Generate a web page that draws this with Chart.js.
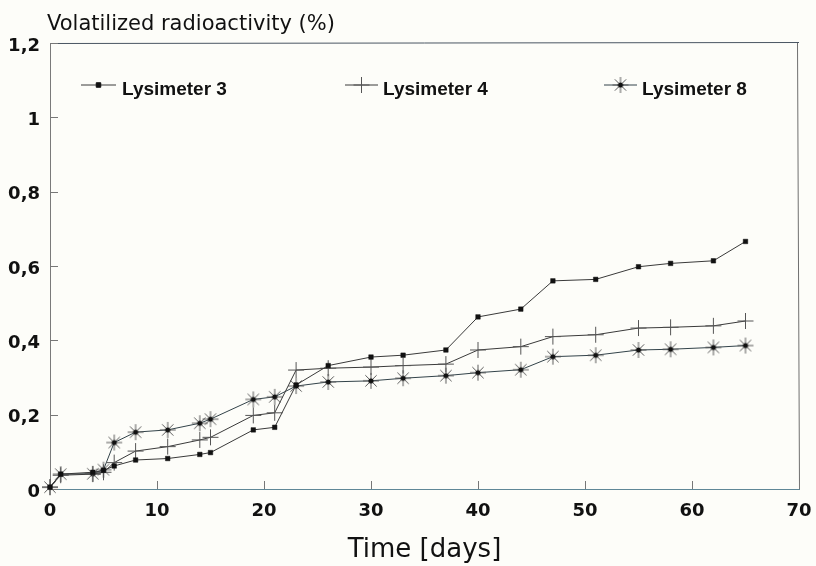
<!DOCTYPE html>
<html>
<head>
<meta charset="utf-8">
<script src="https://cdn.jsdelivr.net/npm/chart.js@4.4.0/dist/chart.umd.min.js"></script>
<style>
  html, body { margin: 0; padding: 0; background: #fdfdf9; }
  #wrap { width: 816px; height: 566px; }
</style>
</head>
<body>
<div id="wrap"><canvas id="c" width="816" height="566"></canvas></div>
<script>
// ---- data ----
const days = [0, 1, 4, 5, 6, 8, 11, 14, 15, 19, 21, 23, 26, 30, 33, 37, 40, 44, 47, 51, 55, 58, 62, 65];
const lysimeter3 = [0.005, 0.04, 0.045, 0.05, 0.062, 0.078, 0.082, 0.093, 0.098, 0.159, 0.166, 0.28, 0.332, 0.355, 0.36, 0.374, 0.463, 0.484, 0.56, 0.564, 0.598, 0.607, 0.614, 0.666];
const lysimeter4 = [0.005, 0.037, 0.04, 0.045, 0.071, 0.102, 0.114, 0.132, 0.139, 0.198, 0.205, 0.32, 0.325, 0.328, 0.332, 0.336, 0.374, 0.383, 0.41, 0.415, 0.433, 0.435, 0.439, 0.452];
const lysimeter8 = [0.005, 0.04, 0.041, 0.052, 0.125, 0.153, 0.159, 0.177, 0.188, 0.241, 0.248, 0.277, 0.288, 0.291, 0.298, 0.305, 0.313, 0.321, 0.356, 0.36, 0.374, 0.376, 0.381, 0.386];
const seriesNames = ['Lysimeter 3', 'Lysimeter 4', 'Lysimeter 8'];
const xTickLabels = ['0', '10', '20', '30', '40', '50', '60', '70'];
const yTickLabels = ['0', '0,2', '0,4', '0,6', '0,8', '1', '1,2'];
const yAxisTitle = 'Volatilized radioactivity (%)';
const xAxisTitle = 'Time [days]';

// asterisk marker with dark centre
function makeAsterisk(r) {
  const s = r * 2 + 4;
  const cv = document.createElement('canvas');
  cv.width = s; cv.height = s;
  const g = cv.getContext('2d');
  const c = s / 2;
  g.strokeStyle = '#5a5a5a';
  g.lineWidth = 1;
  for (let k = 0; k < 4; k++) {
    const a = k * Math.PI / 4;
    g.beginPath();
    g.moveTo(c - r * Math.cos(a), c - r * Math.sin(a));
    g.lineTo(c + r * Math.cos(a), c + r * Math.sin(a));
    g.stroke();
  }
  g.fillStyle = '#111';
  g.beginPath(); g.arc(c, c, 2.6, 0, Math.PI * 2); g.fill();
  return cv;
}
const asterisk = makeAsterisk(8);

const toPts = arr => days.map((d, i) => ({ x: d, y: arr[i] }));

const frameAndLegend = {
  id: 'frameAndLegend',
  beforeDraw(chart) {
    const ctx = chart.ctx;
    ctx.save();
    ctx.fillStyle = '#fdfdf9';
    ctx.fillRect(0, 0, chart.width, chart.height);
    ctx.restore();
  },
  beforeDatasetsDraw(chart) {
    const { ctx, chartArea: a, scales } = chart;
    ctx.save();
    ctx.lineWidth = 1;
    // top & right frame lines
    ctx.strokeStyle = '#4a5663';
    ctx.beginPath(); ctx.moveTo(a.left, a.top + 0.5); ctx.lineTo(a.right, a.top - 0.5); ctx.stroke();
    ctx.strokeStyle = '#707070';
    ctx.beginPath(); ctx.moveTo(a.right - 1.5, a.top); ctx.lineTo(a.right + 0.5, a.bottom); ctx.stroke();
    // inward ticks
    ctx.strokeStyle = '#777';
    scales.y.ticks.forEach(t => {
      const py = Math.round(scales.y.getPixelForValue(t.value)) + 0.5;
      ctx.beginPath(); ctx.moveTo(a.left, py); ctx.lineTo(a.left + 8, py); ctx.stroke();
    });
    scales.x.ticks.forEach(t => {
      const px = Math.round(scales.x.getPixelForValue(t.value)) + 0.5;
      ctx.beginPath(); ctx.moveTo(px, a.bottom); ctx.lineTo(px, a.bottom - 8); ctx.stroke();
    });
    ctx.restore();
  },
  afterDraw(chart) {
    const ctx = chart.ctx;
    ctx.save();
    // axis title (top-left)
    ctx.fillStyle = '#111';
    ctx.font = '21px "DejaVu Sans"';
    ctx.textBaseline = 'alphabetic';
    ctx.textAlign = 'left';
    ctx.fillText(yAxisTitle, 47, 30);
    // legend inside plot
    const items = [
      { x0: 81, x1: 116, tx: 122 },
      { x0: 345, x1: 378, tx: 383 },
      { x0: 604, x1: 637, tx: 642 }
    ];
    const ly = 85;
    chart.data.datasets.forEach((ds, i) => {
      const it = items[i];
      ctx.strokeStyle = ds.borderColor;
      ctx.lineWidth = 1;
      ctx.beginPath(); ctx.moveTo(it.x0, ly); ctx.lineTo(it.x1, ly); ctx.stroke();
      ctx.fillStyle = ds.pointBackgroundColor || '#111';
      ctx.strokeStyle = ds.pointBorderColor || '#555';
      Chart.helpers.drawPoint(ctx, {
        pointStyle: ds.pointStyle, radius: ds.pointRadius, borderWidth: ds.pointBorderWidth || 1, rotation: 0
      }, (it.x0 + it.x1) / 2, ly);
      ctx.fillStyle = '#111';
      ctx.font = 'bold 19px "Liberation Sans"';
      ctx.textBaseline = 'alphabetic';
      ctx.fillText(ds.label, it.tx, ly + 10);
    });
    ctx.restore();
  }
};

new Chart(document.getElementById('c'), {
  type: 'line',
  data: {
    datasets: [
      {
        label: seriesNames[0], data: toPts(lysimeter3), clip: false,
        borderColor: '#3a3a3a', borderWidth: 1,
        pointStyle: 'rect', pointRadius: 3.2, pointBackgroundColor: '#111', pointBorderColor: '#111', pointBorderWidth: 0.5
      },
      {
        label: seriesNames[1], data: toPts(lysimeter4), clip: false,
        borderColor: '#3a3a3a', borderWidth: 1,
        pointStyle: 'cross', pointRadius: 8, pointBorderColor: '#555', pointBorderWidth: 1
      },
      {
        label: seriesNames[2], data: toPts(lysimeter8), clip: false,
        borderColor: '#33434a', borderWidth: 1,
        pointStyle: asterisk, pointRadius: 8, pointBorderWidth: 1
      }
    ]
  },
  options: {
    responsive: false,
    animation: false,
    devicePixelRatio: 1,
    layout: { padding: { top: 43, right: 17, left: 0, bottom: 0 } },
    plugins: { legend: { display: false }, tooltip: { enabled: false }, title: { display: false } },
    elements: { line: { tension: 0 } },
    scales: {
      x: {
        type: 'linear', min: 0, max: 70,
        afterFit: s => { s.height = 77; s.paddingLeft = 0; s.paddingRight = 0; },
        grid: { display: false, drawTicks: false },
        border: { display: true, color: '#5f8797', width: 1 },
        ticks: {
          stepSize: 10, padding: 12, maxRotation: 0,
          color: '#111', font: { family: '"DejaVu Sans"', size: 18, weight: 'bold' },
          callback: (v, i) => xTickLabels[i]
        },
        title: {
          display: true, text: xAxisTitle, color: '#111',
          font: { family: '"DejaVu Sans"', size: 26 }, padding: { top: 0, bottom: 0 }
        }
      },
      y: {
        type: 'linear', min: 0, max: 1.2,
        afterFit: s => { s.width = 50; s.paddingTop = 0; s.paddingBottom = 0; },
        grid: { display: false, drawTicks: false },
        border: { display: true, color: '#7a7a7a', width: 1 },
        ticks: {
          stepSize: 0.2, padding: 10, labelOffset: 3,
          color: '#111', font: { family: '"DejaVu Sans"', size: 18, weight: 'bold' },
          callback: (v, i) => yTickLabels[i]
        }
      }
    }
  },
  plugins: [frameAndLegend]
});
</script>
</body>
</html>
